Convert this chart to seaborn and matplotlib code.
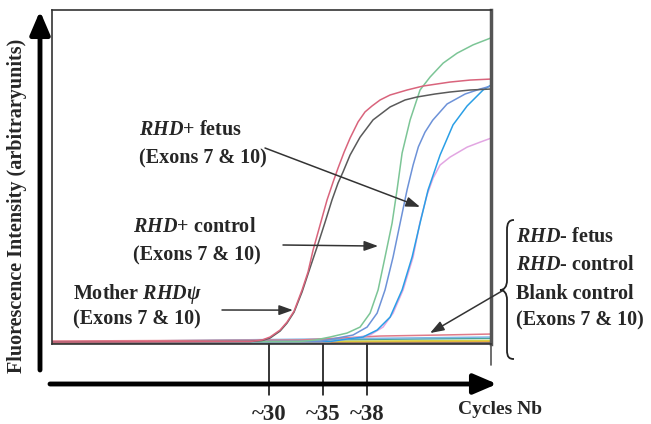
import numpy as np
import pandas as pd
import matplotlib
matplotlib.use('Agg')
import matplotlib.pyplot as plt
from matplotlib.path import Path
from matplotlib.patches import PathPatch
import seaborn as sns

# amplification curves (cycle, fluorescence a.u.)
red_x = [10.0, 28.0, 29.09, 29.82, 30.73, 31.36, 32.0, 32.73, 33.27, 33.73, 34.36, 35.0, 35.55,
         36.0, 36.55, 37.09, 37.82, 38.45, 39.09, 39.82, 40.73, 42.27, 43.73, 46.18, 48.0, 49.9]
red_y = [0.0, 0.15, 0.6, 1.5, 3.6, 6.0, 9.3, 15.7, 21.1, 27.7, 35.2, 42.8, 48.2,
         52.4, 57.2, 61.4, 66.3, 69.3, 71.1, 72.9, 74.4, 75.9, 77.1, 78.3, 78.9, 79.2]

gray_x = [10.0, 28.0, 29.09, 29.82, 30.73, 31.36, 32.0, 32.73, 33.45, 34.09, 34.82, 35.45, 36.0,
          36.45, 37.09, 38.0, 39.18, 40.73, 42.09, 43.18, 44.82, 46.18, 48.0, 49.9]
gray_y = [0.0, 0.15, 0.45, 1.2, 3.3, 5.7, 9.0, 15.1, 22.3, 28.6, 36.1, 42.8, 47.9,
          51.2, 56.3, 61.7, 66.9, 70.8, 72.9, 73.8, 74.7, 75.3, 75.9, 76.2]

green_x = [10.0, 32.55, 33.91, 35.27, 36.82, 38.0, 38.91, 39.64, 40.27, 40.91, 41.36, 41.82,
           42.55, 43.45, 44.36, 45.55, 46.82, 48.27, 49.9]
green_y = [0.0, 0.15, 0.6, 1.5, 2.7, 4.5, 8.7, 15.7, 25.6, 35.8, 45.8, 56.9,
           66.9, 75.9, 79.8, 84.0, 87.0, 89.5, 91.6]

steel_x = [10.0, 34.36, 35.91, 37.36, 38.64, 39.55, 40.27, 41.0, 41.64, 42.27, 42.82, 43.3,
           43.9, 44.6, 45.91, 47.55, 48.91, 49.9]
steel_y = [0.0, 0.15, 1.2, 2.1, 4.5, 8.7, 15.7, 25.6, 35.8, 45.8, 53.3, 58.8,
           63.2, 66.8, 71.7, 74.7, 76.2, 77.1]

sky_x = [10.0, 35.27, 36.82, 38.27, 39.55, 40.73, 41.82, 42.73, 43.45, 44.18, 45.27, 46.45,
         47.73, 49.18, 49.9]
sky_y = [0.0, 0.15, 0.9, 1.5, 3.6, 7.5, 15.7, 25.6, 35.8, 45.8, 56.3, 65.4,
         71.1, 75.9, 77.4]

pink_x = [10.0, 35.27, 37.36, 38.91, 40.09, 41.0, 41.91, 42.82, 43.45, 44.09, 44.64, 45.27,
          46.18, 47.73, 48.91, 49.9]
pink_y = [0.0, 0.15, 1.2, 2.1, 4.5, 8.7, 15.7, 25.6, 36.1, 44.3, 49.4, 53.3,
          55.7, 58.7, 60.2, 61.4]

# negative samples / blanks (flat)
neg_red_x = [10.0, 32.55, 39.82, 45.27, 49.9]
neg_red_y = [0.3, 0.6, 1.8, 2.1, 2.4]
flat_x = [10.0, 49.9]
flat_sky_y = [0.0, 1.5]
flat_teal_y = [0.0, 1.1]
flat_yellow_y = [-0.15, 0.45]
flat_orange_y = [-0.15, 0.15]
flat_navy_y = [-0.3, -0.3]

ct_ticks = [29.7, 34.6, 38.6]
ct_labels = ['~30', '~35', '~38']

curves = [
    ('flat_navy', flat_x, flat_navy_y, '#1f2a5a'),
    ('flat_orange', flat_x, flat_orange_y, '#f0a040'),
    ('flat_yellow', flat_x, flat_yellow_y, '#d8d040'),
    ('flat_teal', flat_x, flat_teal_y, '#4aa59a'),
    ('flat_sky', flat_x, flat_sky_y, '#7fb6e6'),
    ('neg_red', neg_red_x, neg_red_y, '#e07a88'),
    ('pink', pink_x, pink_y, '#e2a6e2'),
    ('sky', sky_x, sky_y, '#2a9fe6'),
    ('steel', steel_x, steel_y, '#6d92d8'),
    ('green', green_x, green_y, '#7cc596'),
    ('gray', gray_x, gray_y, '#5a5a5a'),
    ('red', red_x, red_y, '#d9647c'),
]

rows = []
for name, xs, ys, _ in curves:
    for x, y in zip(xs, ys):
        rows.append({'sample': name, 'cycle': x, 'fluo': y})
df = pd.DataFrame(rows)
palette = {name: col for name, _, _, col in curves}

sns.set_style('white')
plt.rcParams['font.family'] = ['Liberation Serif', 'DejaVu Serif']
plt.rcParams['mathtext.fontset'] = 'custom'
plt.rcParams['mathtext.rm'] = 'Liberation Serif:bold'
plt.rcParams['mathtext.bf'] = 'Liberation Serif:bold'
plt.rcParams['mathtext.it'] = 'Liberation Serif:italic:bold'

W, H = 651, 424
fig = plt.figure(figsize=(W / 100, H / 100), dpi=100)


def fp(x, y):
    # pixel position (from top-left) -> figure fraction
    return (x / W, 1 - y / H)


ax = fig.add_axes([52 / W, 1 - 344 / H, 439 / W, 334 / H])
sns.lineplot(data=df, x='cycle', y='fluo', hue='sample', palette=palette,
             estimator=None, sort=False, legend=False, lw=1.1, ax=ax)
ax.set_xlim(10, 49.9)
ax.set_ylim(-0.6, 100)
ax.set_xticks([])
ax.set_yticks([])
ax.set_xlabel('')
ax.set_ylabel('')
for side in ['top', 'left', 'bottom']:
    ax.spines[side].set_color('#333333')
    ax.spines[side].set_linewidth(1.2)
ax.spines['right'].set_color('#555555')
ax.spines['right'].set_linewidth(2.5)
# right border runs a bit below the box
ax.plot([1, 1], [0, -21 / 334], transform=ax.transAxes, color='#555555', lw=1.2, clip_on=False)

# Ct marks
xt = ax.get_xaxis_transform()
for c, lab in zip(ct_ticks, ct_labels):
    ax.plot([c, c], [0, -51 / 334], transform=xt, color='black', lw=1.1, clip_on=False)
    ax.text(c, -70 / 334, lab, transform=xt, ha='center', va='center',
            fontsize=16.5, fontweight='bold')

# big axis arrows
big = dict(arrowstyle='-|>,head_length=0.7,head_width=0.3', lw=3.5, color='black',
           shrinkA=0, shrinkB=0, mutation_scale=20)
ax.annotate('', xy=fp(40, 11), xytext=fp(40, 370), xycoords='figure fraction',
            textcoords='figure fraction', arrowprops=big)
ax.annotate('', xy=fp(497, 384), xytext=fp(50, 384), xycoords='figure fraction',
            textcoords='figure fraction', arrowprops=big)

fig.text(*fp(17, 206), 'Fluorescence Intensity (arbitraryunits)', rotation=90,
         ha='center', va='center', fontsize=14.5, fontweight='bold')
fig.text(*fp(500, 410), 'Cycles Nb', ha='center', va='center', fontsize=14, fontweight='bold')

fs = 14.5
def label(x, y, s):
    fig.text(*fp(x, y), s, ha='left', va='center', fontsize=fs, fontweight='bold')

label(139, 130, r'$\mathit{RHD}$+ fetus')
label(139, 158, '(Exons 7 & 10)')
label(133, 227, r'$\mathit{RHD}$+ control')
label(133, 255, '(Exons 7 & 10)')
label(73, 294, r'Mother $\mathit{RHD\psi}$')
label(73, 319, '(Exons 7 & 10)')
label(516, 237, r'$\mathit{RHD}$- fetus')
label(516, 265, r'$\mathit{RHD}$- control')
label(516, 294, 'Blank control')
label(516, 320, '(Exons 7 & 10)')

small = dict(arrowstyle='-|>,head_length=0.7,head_width=0.25', lw=1.1, color='#333333',
             shrinkA=0, shrinkB=0, mutation_scale=12)
arrows = [((265, 148), (43.45, 40.7)),
          ((283, 245), (39.64, 28.9)),
          ((222, 310), (31.9, 9.6)),
          ((502, 291), (44.36, 2.7))]
for start, tip in arrows:
    ax.annotate('', xy=tip, xycoords='data', xytext=fp(*start),
                textcoords='figure fraction', arrowprops=small, annotation_clip=False)

# curly brace for the negative samples
pts = [(514, 220), (509, 220), (507, 223), (507, 230), (507, 280),
       (507, 287), (504, 290), (500, 290), (504, 290), (507, 293), (507, 300),
       (507, 350), (507, 357), (509, 359), (514, 359)]
codes = [Path.MOVETO, Path.CURVE4, Path.CURVE4, Path.CURVE4, Path.LINETO,
         Path.CURVE4, Path.CURVE4, Path.CURVE4, Path.CURVE4, Path.CURVE4, Path.CURVE4,
         Path.LINETO, Path.CURVE4, Path.CURVE4, Path.CURVE4]
brace = PathPatch(Path([fp(*p) for p in pts], codes), transform=fig.transFigure,
                  fill=False, lw=1.3, color='#222222')
fig.patches.append(brace)

fig.savefig('out.png', dpi=100)
